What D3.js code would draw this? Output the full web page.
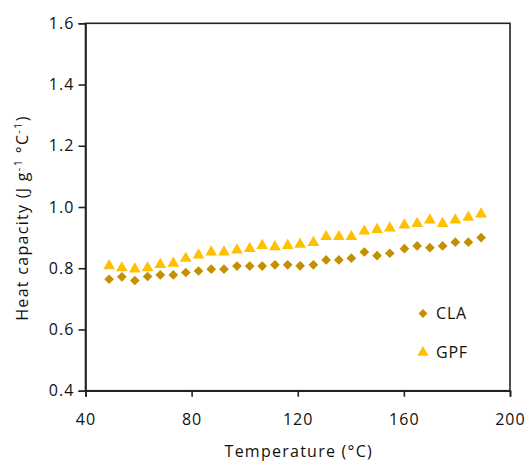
<!DOCTYPE html>
<html><head><meta charset="utf-8">
<script src="https://cdn.jsdelivr.net/npm/d3@7"></script>
<style>body{margin:0;background:#fff}svg{display:block}text{font-family:"Open Sans",Lato,sans-serif}</style>
</head><body><svg id="c" width="530" height="462"></svg>
<script>
const temperature = [48.9,53.7,58.6,63.4,68.2,73.1,77.8,82.6,87.4,92.2,97.1,101.9,106.6,111.4,116.2,120.9,125.9,130.7,135.5,140.2,145.1,149.9,154.7,160.2,165.0,169.8,174.6,179.4,184.3,189.1];
const claValues = [0.764,0.772,0.760,0.773,0.778,0.778,0.786,0.791,0.797,0.797,0.807,0.807,0.807,0.811,0.811,0.808,0.811,0.827,0.827,0.833,0.853,0.841,0.849,0.864,0.873,0.867,0.873,0.885,0.885,0.900];
const gpfValues = [0.808,0.801,0.797,0.801,0.812,0.816,0.832,0.843,0.853,0.853,0.859,0.864,0.874,0.870,0.874,0.878,0.884,0.903,0.903,0.903,0.921,0.926,0.931,0.941,0.946,0.957,0.946,0.957,0.966,0.977];
const xTicks = [40,80,120,160,200];
const yTicks = [0.4,0.6,0.8,1.0,1.2,1.4,1.6];
const seriesNames = ["CLA","GPF"];
const seriesColors = ["#C49000","#FFC000"];

const svg = d3.select("#c");
const L=85.5, R=510, T=23.3, B=390.7;
const x = d3.scaleLinear().domain([40,200]).range([L,R]);
const y = d3.scaleLinear().domain([0.4,1.6]).range([B,T]);

svg.append("rect").attr("x",L).attr("y",T).attr("width",R-L).attr("height",B-T)
  .attr("fill","none").attr("stroke","#222").attr("stroke-width",1.6);

const fmt = d3.format(".1f");
const ya = svg.append("g").attr("transform",`translate(${L},0)`)
  .call(d3.axisLeft(y).tickValues(yTicks).tickFormat(fmt).tickSize(7).tickPadding(4));
const xa = svg.append("g").attr("transform",`translate(0,${B})`)
  .call(d3.axisBottom(x).tickValues(xTicks).tickFormat(d3.format("d")).tickSize(6).tickPadding(17));
[ya,xa].forEach(g=>{
  g.select(".domain").attr("stroke","#222").attr("stroke-width",1.6);
  g.selectAll(".tick line").attr("stroke","#222").attr("stroke-width",1.6);
  g.selectAll(".tick text").attr("font-size",16).attr("letter-spacing","1.1px").attr("fill","#111");
});

const diamond = d3.symbol().type(d3.symbolDiamond2).size(60);
const tri = d3.symbol().type(d3.symbolTriangle).size(60);

const pts = temperature.map((t,i)=>({t,c:claValues[i],g:gpfValues[i]}));
svg.append("g").selectAll("path").data(pts).join("path")
  .attr("d",tri).attr("fill",seriesColors[1])
  .attr("transform",d=>`translate(${x(d.t)},${y(d.g)})`);
svg.append("g").selectAll("path").data(pts).join("path")
  .attr("d",diamond).attr("fill",seriesColors[0])
  .attr("transform",d=>`translate(${x(d.t)},${y(d.c)})`);

const lg = svg.append("g");
const legY = [y(0.652), y(0.525)];
lg.append("path").attr("d",d3.symbol().type(d3.symbolDiamond2).size(52)).attr("fill",seriesColors[0])
  .attr("transform",`translate(423,${legY[0]})`);
lg.append("path").attr("d",d3.symbol().type(d3.symbolTriangle).size(55)).attr("fill",seriesColors[1])
  .attr("transform",`translate(423,${legY[1]})`);
seriesNames.forEach((n,i)=>lg.append("text").attr("x",436).attr("y",legY[i]).attr("dy","0.35em")
  .attr("font-size",16).attr("letter-spacing","0.8px").attr("fill","#111").text(n));

svg.append("text").attr("x",(L+R)/2+1).attr("y",457).attr("text-anchor","middle")
  .attr("font-size",16).attr("letter-spacing","1.25px").attr("fill","#111").text("Temperature (°C)");
const yt = svg.append("text").attr("transform","translate(28,218) rotate(-90)")
  .attr("text-anchor","middle").attr("font-size",16).attr("letter-spacing","1.3px").attr("fill","#111");
yt.append("tspan").text("Heat capacity (J g");
yt.append("tspan").attr("dy",-6).attr("font-size",11).text("-1");
yt.append("tspan").attr("dy",6).text(" °C");
yt.append("tspan").attr("dy",-6).attr("font-size",11).text("-1");
yt.append("tspan").attr("dy",6).text(")");
</script></body></html>
